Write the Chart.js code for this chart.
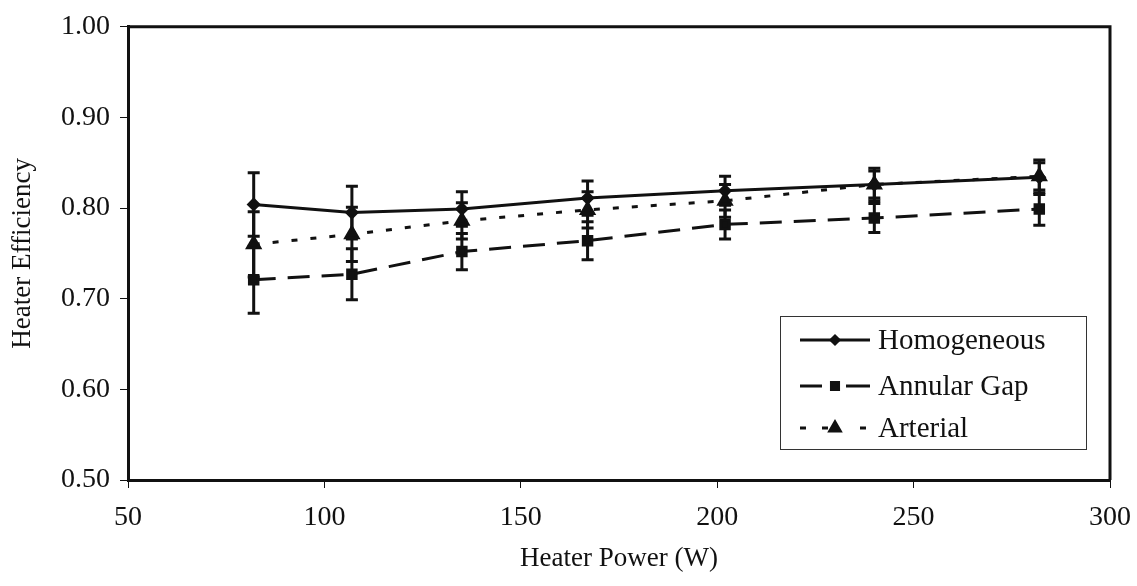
<!DOCTYPE html>
<html>
<head>
<meta charset="utf-8">
<script src="https://cdn.jsdelivr.net/npm/chart.js@4/dist/chart.umd.min.js"></script>
<style>
  html, body { margin: 0; padding: 0; background: #fff; }
  #wrap { width: 1137px; height: 586px; }
</style>
</head>
<body>
<div id="wrap"><canvas id="myChart" width="1137" height="586"></canvas></div>
<script>
// values
const heaterPower = [82, 107, 135, 167, 202, 240, 282];
const homogeneous = [0.804, 0.795, 0.799, 0.811, 0.819, 0.826, 0.834];
const homogeneousErr = [0.035, 0.029, 0.019, 0.019, 0.016, 0.018, 0.019];
const annularGap = [0.721, 0.727, 0.752, 0.764, 0.782, 0.789, 0.799];
const annularGapErr = [0.037, 0.028, 0.020, 0.021, 0.016, 0.016, 0.018];
const arterial = [0.760, 0.771, 0.786, 0.798, 0.808, 0.826, 0.835];
const arterialErr = [0.036, 0.030, 0.020, 0.020, 0.018, 0.015, 0.015];
const seriesNames = ["Homogeneous", "Annular Gap", "Arterial"];
const xTicks = [50, 100, 150, 200, 250, 300];
const yTicks = [0.50, 0.60, 0.70, 0.80, 0.90, 1.00];

const FONT = "'Liberation Serif', 'Times New Roman', serif";
const INK = '#111';

function points(ys) {
  return heaterPower.map((x, i) => ({ x: x, y: ys[i] }));
}

const data = {
  datasets: [
    {
      label: seriesNames[0],
      data: points(homogeneous),
      errs: homogeneousErr,
      showLine: true,
      borderColor: INK,
      backgroundColor: INK,
      borderWidth: 3,
      pointStyle: 'rectRot',
      pointRadius: 5,
      tension: 0
    },
    {
      label: seriesNames[1],
      data: points(annularGap),
      errs: annularGapErr,
      showLine: true,
      borderColor: INK,
      backgroundColor: INK,
      borderWidth: 3,
      borderDash: [22, 12],
      pointStyle: 'rect',
      pointRadius: 6,
      tension: 0
    },
    {
      label: seriesNames[2],
      data: points(arterial),
      errs: arterialErr,
      showLine: true,
      borderColor: INK,
      backgroundColor: INK,
      borderWidth: 3,
      borderDash: [6, 13],
      pointStyle: 'triangle',
      pointRadius: 7,
      tension: 0
    }
  ]
};

// legend line samples: pieces left and right of the marker
const legendPieces = [
  [[800, 870]],
  [[800, 822], [846, 870]],
  [[800, 806], [822, 828], [860, 866]]
];

// error bars, frame and the boxed legend
const extras = {
  id: 'extras',
  beforeDatasetsDraw(chart) {
    const ctx = chart.ctx;
    const xs = chart.scales.x, ys = chart.scales.y;
    ctx.save();
    ctx.strokeStyle = INK;
    ctx.lineWidth = 3;
    chart.data.datasets.forEach(ds => {
      ds.data.forEach((p, i) => {
        const px = xs.getPixelForValue(p.x);
        const top = ys.getPixelForValue(p.y + ds.errs[i]);
        const bot = ys.getPixelForValue(p.y - ds.errs[i]);
        ctx.beginPath();
        ctx.moveTo(px, top); ctx.lineTo(px, bot);
        ctx.moveTo(px - 6, top); ctx.lineTo(px + 6, top);
        ctx.moveTo(px - 6, bot); ctx.lineTo(px + 6, bot);
        ctx.stroke();
      });
    });
    ctx.restore();
  },
  afterDraw(chart) {
    const ctx = chart.ctx;
    const a = chart.chartArea;
    ctx.save();
    ctx.strokeStyle = INK;
    ctx.lineWidth = 3;
    ctx.beginPath();
    ctx.moveTo(a.left, a.top); ctx.lineTo(a.right, a.top); ctx.lineTo(a.right, a.bottom);
    ctx.stroke();

    // legend box
    const bx = 780, by = 316, bw = 306, bh = 133;
    ctx.fillStyle = '#fff';
    ctx.fillRect(bx, by, bw, bh);
    ctx.lineWidth = 1;
    ctx.strokeStyle = '#333';
    ctx.strokeRect(bx + 0.5, by + 0.5, bw, bh);
    const rows = [340, 386, 428];
    ctx.font = '29px ' + FONT;
    ctx.textBaseline = 'middle';
    chart.data.datasets.forEach((ds, i) => {
      const y = rows[i];
      ctx.strokeStyle = INK;
      ctx.fillStyle = INK;
      ctx.lineWidth = 3;
      ctx.beginPath();
      legendPieces[i].forEach(seg => { ctx.moveTo(seg[0], y); ctx.lineTo(seg[1], y); });
      ctx.stroke();
      Chart.helpers.drawPoint(ctx, { pointStyle: ds.pointStyle, radius: ds.pointRadius - 1, borderWidth: 1 }, 835, y);
      ctx.fillStyle = INK;
      ctx.fillText(ds.label, 878, y + 1);
    });
    ctx.restore();
  }
};

const config = {
  type: 'scatter',
  data: data,
  options: {
    responsive: false,
    animation: false,
    layout: { padding: { top: 25, right: 27, left: 0, bottom: 0 } },
    plugins: {
      legend: { display: false },
      tooltip: { enabled: false }
    },
    scales: {
      x: {
        type: 'linear',
        min: 50,
        max: 300,
        afterFit(scale) { scale.height = 106; scale.paddingRight = 0; scale.paddingLeft = 0; },
        afterBuildTicks(scale) { scale.ticks = xTicks.map(v => ({ value: v })); },
        border: { color: INK, width: 3 },
        grid: { drawOnChartArea: false, color: INK, tickLength: 8, tickWidth: 1 },
        ticks: {
          color: INK,
          font: { family: FONT, size: 28 },
          padding: 13
        },
        title: {
          display: true,
          text: 'Heater Power (W)',
          color: INK,
          font: { family: FONT, size: 27 },
          padding: { top: 0, bottom: 11 }
        }
      },
      y: {
        type: 'linear',
        min: 0.5,
        max: 1.0,
        afterFit(scale) { scale.width = 128; },
        afterBuildTicks(scale) { scale.ticks = yTicks.map(v => ({ value: v })); },
        border: { color: INK, width: 3 },
        grid: { drawOnChartArea: false, color: INK, tickLength: 8, tickWidth: 1 },
        ticks: {
          color: INK,
          font: { family: FONT, size: 28 },
          padding: 10,
          callback: v => Number(v).toFixed(2)
        },
        title: {
          display: true,
          text: 'Heater Efficiency',
          color: INK,
          font: { family: FONT, size: 27 },
          padding: { top: 7, bottom: 0 }
        }
      }
    }
  },
  plugins: [extras]
};

const myChart = new Chart(document.getElementById('myChart'), config);
</script>
</body>
</html>
